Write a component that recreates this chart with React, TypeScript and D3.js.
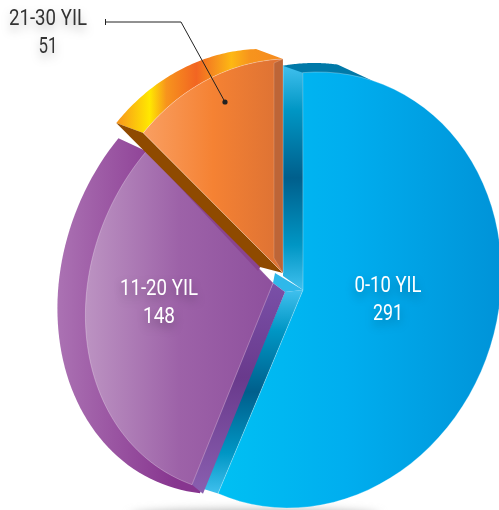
import React from 'react';
import * as d3 from 'd3';

// values
const categories = ['0-10 YIL', '11-20 YIL', '21-30 YIL'];
const values = [291, 148, 51];

const W = 499;
const H = 510;

// the picture is not true to the data: slices are drawn at these angles (deg)
const total = d3.sum(values);
const warp = d3.scaleLinear().domain([0, 291, 439, total]).range([-4.4, 201, 313, 360]);

type Mat = { a: number; b: number; c: number; d: number; e: number; f: number };

// each exploded slice has its own ellipse (skewed a bit) + extrude offset
const blueMat: Mat = { a: 198, b: 0, c: -15, d: 218, e: 303, f: 290 };
const purpleMat: Mat = { a: 187, b: -15.600, c: -15, d: 210, e: 273, f: 283 };
const orangeMat: Mat = { a: 191, b: -8, c: 0, d: 214, e: 283, f: 273 };

const shift = (m: Mat, dx: number, dy: number): Mat => ({ ...m, e: m.e + dx, f: m.f + dy });
const nudge = (p: [number, number], dx: number, dy: number): [number, number] => [p[0] + dx, p[1] + dy];

const project = (m: Mat, t: number): [number, number] => {
  const u = Math.sin(t);
  const v = -Math.cos(t);
  return [m.a * u + m.c * v + m.e, m.b * u + m.d * v + m.f];
};

const arcPts = (m: Mat, t0: number, t1: number) =>
  d3.range(0, 61).map(i => project(m, t0 + ((t1 - t0) * i) / 60));

const line = d3.line();
const poly = (pts: [number, number][]) => line(pts) + 'Z';
const wedge = (m: Mat, t0: number, t1: number) => poly([[m.e, m.f], ...arcPts(m, t0, t1)]);
const rad = (deg: number) => (deg * Math.PI) / 180;

const pieGen = d3.pie<number>().sort(null).value(d => d).startAngle(0).endAngle(2 * Math.PI);
const slices = pieGen(values).map(s => ({
  t0: rad(warp((s.startAngle / (2 * Math.PI)) * total)),
  t1: rad(warp((s.endAngle / (2 * Math.PI)) * total)),
}));

const grads: [string, [number, string][], boolean][] = [
  ['blueFace', [[0, '#00c0f3'], [0.45, '#00aeef'], [1, '#0093d8']], false],
  ['purpleFace', [[0, '#bc93c2'], [0.5, '#9d62a8'], [1, '#8e509d']], false],
  ['orangeFace', [[0, '#f99f62'], [0.5, '#f58233'], [1, '#dc7134']], false],
  ['purpleBack', [[0, '#ab72b3'], [0.55, '#87358f'], [1, '#87358f']], false],
  ['orangeBand', [[0, '#f7941d'], [0.2, '#ffe800'], [0.3, '#f7941d'], [0.48, '#f26522'], [0.6, '#f7941d'], [0.69, '#fdb813'], [0.8, '#f7941d'], [1, '#f58a1f']], false],
  ['blueWall', [[0, '#40c0ee'], [0.2, '#0096c4'], [0.5, '#005f8c'], [0.8, '#0096c4'], [1, '#40c0ee']], true],
  ['purpleWall', [[0, '#7a50a8'], [0.45, '#693a8c'], [1, '#8a5fb0']], true],
];

const labels = [
  { x: 388, y: 292, w: 67, nw: 30, fill: '#fff' },
  { x: 159, y: 295, w: 78, nw: 32, fill: '#fff' },
  { x: 48, y: 25, w: 78, nw: 19, fill: '#333' },
];

export default function App() {
  const [blue, purple, orange] = slices;

  const blueBack = shift(blueMat, -20, -7);
  const blueSliver = shift(blueMat, -4, -9);
  // back of the purple slice: meets the front edge at the bottom tip
  const purpleBackMat: Mat = { ...purpleMat, d: 218, e: 245, f: 275.500 };
  const orangeBackMat = shift(orangeMat, -27, -10);

  const blueEnd = project(blueMat, blue.t1);
  const blueTop = project(blueMat, blue.t0);
  const blueBackEnd = nudge(project(blueBack, blue.t1), 4, 2);
  const blueBackTop = project(blueBack, blue.t0);
  const pBottom = project(purpleMat, purple.t0);
  const pTop = project(purpleMat, purple.t1);
  const oLeft = project(orangeMat, orange.t0);
  const oTop = project(orangeMat, orange.t1);
  const oLeftBack = project(orangeBackMat, orange.t0);
  const oApex: [number, number] = [orangeMat.e, orangeMat.f];
  const pApex: [number, number] = [purpleMat.e, purpleMat.f];
  const bApex: [number, number] = [blueMat.e, blueMat.f];
  const oApexBack = nudge(oApex, -23, -6);
  const pWallTop = nudge(pApex, 12, 9);
  const pWallBottom = nudge(pBottom, 11, 9);

  const faceEdge = { stroke: 'rgba(255,255,255,0.35)', strokeWidth: 0.8 };
  const textStyle = { filter: 'drop-shadow(0px 5px 5px rgba(0,0,0,0.28))' };

  return (
    <svg width={W} height={H} viewBox={`0 0 ${W} ${H}`} style={{ position: 'absolute', left: 0, top: 0, display: 'block' }}>
      <defs>
        {grads.map(([id, stops, vertical]) => (
          <linearGradient key={id} id={id} x1="0" y1="0" x2={vertical ? 0 : 1} y2={vertical ? 1 : 0}>
            {stops.map(([o, c]) => <stop key={o} offset={o} stopColor={c} />)}
          </linearGradient>
        ))}
        <filter id="floor" x="-20%" y="-200%" width="140%" height="500%">
          <feGaussianBlur stdDeviation="4" />
        </filter>
      </defs>

      {/* floor shadow */}
      <ellipse cx={255} cy={515} rx={125} ry={6} fill="#bbb" filter="url(#floor)" />

      {/* blue slice */}
      <path d={poly([[blueSliver.e, blueSliver.f], ...arcPts(blueSliver, rad(-10), rad(7)), project(blueMat, rad(16))])} fill="#0079a8" />
      <path d={poly([blueBackTop, blueTop, bApex, nudge(bApex, -20, -14)])} fill="url(#blueWall)" />
      <path d={poly([bApex, blueEnd, blueBackEnd, pWallTop])} fill="url(#blueWall)" />
      <path d={poly([nudge(bApex, -28, -17), bApex, pWallTop, pApex])} fill="#2fb8ea" />
      <path d={wedge(blueMat, blue.t0, blue.t1)} fill="url(#blueFace)" {...faceEdge} />

      {/* purple slice */}
      <path d={poly([...arcPts(purpleBackMat, rad(189.300), purple.t1), pTop, pApex])} fill="url(#purpleBack)" />
      <path d={poly([pApex, pWallTop, pWallBottom, pBottom])} fill="url(#purpleWall)" />
      <path d={wedge(purpleMat, purple.t0, purple.t1)} fill="url(#purpleFace)" {...faceEdge} />
      <path d={poly([pTop, nudge(pTop, 2, -6), nudge(oApexBack, 2, -3), nudge(pApex, -15, -12)])} fill="#8a4490" />

      {/* orange slice */}
      <path d={poly([...arcPts(orangeBackMat, orange.t0, orange.t1), oTop, ...arcPts(orangeMat, orange.t1, orange.t0)])} fill="url(#orangeBand)" />
      <path d={poly([oLeftBack, oLeft, oApex, oApexBack])} fill="#8f4a00" />
      <path d={wedge(orangeMat, orange.t0, orange.t1)} fill="url(#orangeFace)" {...faceEdge} />
      <path d={poly([nudge(oTop, -9, 4), oTop, oApex, nudge(oApex, -9, -15)])} fill="#bd6537" stroke="rgba(255,255,255,0.22)" strokeWidth={0.8} />

      {/* leader for the small slice */}
      <g stroke="#222" strokeWidth={1} fill="none">
        <path d="M105.500,19V25M105.500,22H181L225,102" />
      </g>
      <circle cx={225} cy={102} r={2.6} fill="#222" />

      {/* labels */}
      {labels.map((l, i) => (
        <g key={categories[i]} fontFamily="Roboto, sans-serif" fontSize={22.500} fill={l.fill} textAnchor="middle" style={textStyle}>
          <text x={l.x} y={l.y} textLength={l.w} lengthAdjust="spacingAndGlyphs">{categories[i]}</text>
          <text x={l.x} y={l.y + 28} textLength={l.nw} lengthAdjust="spacingAndGlyphs">{values[i]}</text>
        </g>
      ))}
    </svg>
  );
}
